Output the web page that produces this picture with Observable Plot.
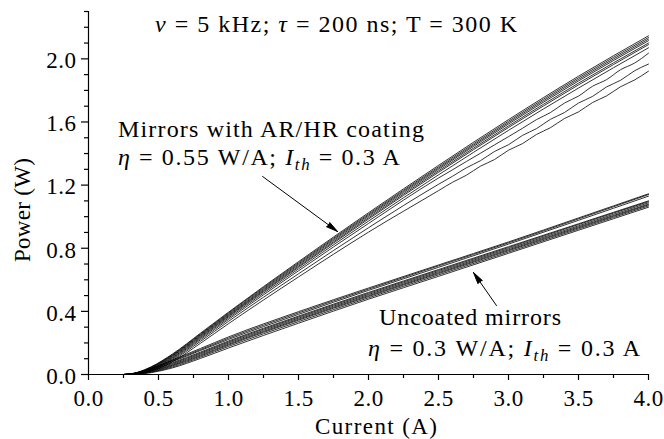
<!DOCTYPE html>
<html><head><meta charset="utf-8">
<script src="https://cdn.jsdelivr.net/npm/d3@7"></script>
<script src="https://cdn.jsdelivr.net/npm/@observablehq/plot@0.6"></script>
<style>
html,body{margin:0;padding:0;background:#fff;}
svg{display:block;}
</style></head><body><div id="chart"></div>
<script>
// ---- data ----
const currents = [0, 0.25, 0.35, 0.45, 0.6, 0.8, 1.0, 1.5, 2.0, 2.5, 3.0, 3.5, 4.0];
const noisyCurrents = [2.6, 2.7, 2.8, 2.9, 3.0, 3.1, 3.2, 3.3, 3.4, 3.5, 3.6, 3.7, 3.8, 3.9, 4.0];

// Mirrors with AR/HR coating (smooth curves)
const coatedPower = [
  [0, 0, 0.014, 0.05, 0.13, 0.262, 0.395, 0.715, 1.025, 1.325, 1.615, 1.89, 2.146],
  [0, 0, 0.013, 0.048, 0.126, 0.257, 0.39, 0.708, 1.017, 1.316, 1.605, 1.88, 2.135],
  [0, 0, 0.012, 0.045, 0.122, 0.252, 0.384, 0.701, 1.01, 1.308, 1.596, 1.87, 2.125],
  [0, 0, 0.011, 0.043, 0.118, 0.247, 0.378, 0.694, 1.002, 1.3, 1.587, 1.86, 2.115],
  [0, 0, 0.01, 0.04, 0.113, 0.241, 0.372, 0.686, 0.993, 1.29, 1.575, 1.846, 2.1],
  [0, 0, 0.009, 0.037, 0.108, 0.235, 0.366, 0.679, 0.985, 1.281, 1.565, 1.835, 2.09],
  [0, 0, 0.008, 0.034, 0.103, 0.228, 0.358, 0.669, 0.972, 1.265, 1.547, 1.815, 2.07]
];
// Mirrors with AR/HR coating (curves that get noisy at high current)
const coatedNoisyHead = [
  [0, 0, 0.007, 0.031, 0.097, 0.22, 0.349, 0.657, 0.957, 1.245],
  [0, 0, 0.006, 0.027, 0.09, 0.21, 0.337, 0.638, 0.93, 1.205],
  [0, 0, 0.004, 0.022, 0.081, 0.198, 0.322, 0.618, 0.902, 1.165]
];
const coatedNoisyTail = [
  [1.297, 1.35, 1.402, 1.455, 1.507, 1.56, 1.615, 1.66, 1.72, 1.764, 1.826, 1.868, 1.931, 1.973, 2.036],
  [1.256, 1.31, 1.355, 1.413, 1.456, 1.515, 1.558, 1.617, 1.66, 1.72, 1.762, 1.822, 1.864, 1.924, 1.967],
  [1.218, 1.263, 1.32, 1.362, 1.421, 1.463, 1.521, 1.564, 1.622, 1.664, 1.723, 1.765, 1.823, 1.866, 1.922]
];
// Uncoated mirrors
const uncoatedPower = [
  [0, 0, 0.012, 0.04, 0.092, 0.165, 0.238, 0.398, 0.548, 0.694, 0.84, 0.992, 1.145],
  [0, 0, 0.011, 0.037, 0.087, 0.158, 0.23, 0.39, 0.541, 0.688, 0.834, 0.986, 1.14],
  [0, 0, 0.01, 0.034, 0.082, 0.152, 0.222, 0.381, 0.533, 0.679, 0.826, 0.977, 1.13],
  [0, 0, 0.008, 0.03, 0.075, 0.142, 0.212, 0.37, 0.52, 0.665, 0.81, 0.955, 1.1],
  [0, 0, 0.007, 0.027, 0.07, 0.136, 0.206, 0.364, 0.514, 0.659, 0.804, 0.95, 1.095],
  [0, 0, 0.006, 0.024, 0.064, 0.13, 0.199, 0.357, 0.507, 0.652, 0.797, 0.942, 1.088],
  [0, 0, 0.005, 0.021, 0.059, 0.123, 0.192, 0.35, 0.5, 0.645, 0.79, 0.935, 1.08],
  [0, 0, 0.004, 0.018, 0.054, 0.117, 0.186, 0.344, 0.494, 0.639, 0.784, 0.929, 1.075],
  [0, 0, 0.003, 0.015, 0.048, 0.11, 0.178, 0.335, 0.486, 0.631, 0.776, 0.922, 1.068],
  [0, 0, 0.002, 0.012, 0.042, 0.102, 0.168, 0.325, 0.477, 0.622, 0.768, 0.914, 1.06]
];

const xTicks = [0, 0.5, 1.0, 1.5, 2.0, 2.5, 3.0, 3.5, 4.0];
const xMinorTicks = [0.25, 0.75, 1.25, 1.75, 2.25, 2.75, 3.25, 3.75];
const yTicks = [0, 0.4, 0.8, 1.2, 1.6, 2.0];
const yMinorTicks = [0.1, 0.2, 0.3, 0.5, 0.6, 0.7, 0.9, 1.0, 1.1, 1.3, 1.4, 1.5, 1.7, 1.8, 1.9, 2.1, 2.2, 2.3];

const titleText = [{t: "ν", i: true}, {t: " = 5 kHz; "}, {t: "τ", i: true}, {t: " = 200 ns; T = 300 K"}];
const coatedLabel1 = [{t: "Mirrors with AR/HR coating"}];
const coatedLabel2 = [{t: "η", i: true}, {t: " = 0.55 W/A; "}, {t: "I", i: true}, {t: "th", i: true, sub: true}, {t: " = 0.3 A", up: true}];
const uncoatedLabel1 = [{t: "Uncoated mirrors"}];
const uncoatedLabel2 = [{t: "η", i: true}, {t: " = 0.3 W/A; "}, {t: "I", i: true}, {t: "th", i: true, sub: true}, {t: " = 0.3 A", up: true}];
const xLabel = "Current (A)";
const yLabel = "Power (W)";

// ---- build rows ----
const rows = [];
coatedPower.forEach((ys, k) => ys.forEach((p, j) => rows.push({id: "c" + k, I: currents[j], P: p})));
coatedNoisyHead.forEach((ys, k) => {
  ys.forEach((p, j) => rows.push({id: "cn" + k, I: currents[j], P: p}));
  coatedNoisyTail[k].forEach((p, j) => rows.push({id: "cn" + k, I: noisyCurrents[j], P: p}));
});
uncoatedPower.forEach((ys, k) => ys.forEach((p, j) => rows.push({id: "u" + k, I: currents[j], P: p})));

const arrows = [
  {x1: 1.243, y1: 1.255, x2: 1.779, y2: 0.906},
  {x1: 2.914, y1: 0.437, x2: 2.75, y2: 0.646}
];

const SERIF = "'Liberation Serif', serif";
const FS = 23;      // tick labels
const NFS = 24;     // annotations
const fmt = d3.format(".1f");

const plot = Plot.plot({
  width: 664, height: 439,
  marginLeft: 88, marginRight: 16, marginTop: 11, marginBottom: 65,
  x: {domain: [0, 4]},
  y: {domain: [0, 2.3]},
  style: {fontFamily: SERIF, fontSize: FS + "px", color: "black", background: "white", overflow: "visible"},
  marks: [
    Plot.line(rows, {x: "I", y: "P", z: "id", stroke: "black", strokeWidth: 0.8, curve: "monotone-x"}),
    Plot.ruleX([0], {strokeWidth: 1.2}),
    Plot.ruleY([0], {strokeWidth: 1.2}),
    Plot.axisX({ticks: xTicks, tickSize: 6, tickPadding: 9, tickFormat: fmt, label: null, strokeWidth: 1.2}),
    Plot.axisX({ticks: xMinorTicks, tickSize: 4, tickFormat: () => "", label: null, strokeWidth: 1.2}),
    Plot.axisY({ticks: yTicks, tickSize: 7, tickPadding: 5, tickFormat: fmt, label: null, strokeWidth: 1.2}),
    Plot.axisY({ticks: yMinorTicks, tickSize: 4, tickFormat: () => "", label: null, strokeWidth: 1.2}),
    Plot.arrow(arrows, {x1: "x1", y1: "y1", x2: "x2", y2: "y2", stroke: "black", fill: "black",
      strokeWidth: 1, headAngle: 26, headLength: 18})
  ]
});

document.getElementById("chart").appendChild(plot);

const svg = d3.select(plot);
svg.selectAll("text").style("font-family", SERIF).style("letter-spacing", "0.5px");
svg.selectAll('g[aria-label="y-axis tick label"]').attr("transform", function () {
  const t = this.getAttribute("transform") || "";
  return t + " translate(0,2)";
});
const sx = plot.scale("x"), sy = plot.scale("y");
function note(xv, yv, parts, len, anchor = "start", rotate = 0, size = NFS) {
  const px = sx.apply(xv), py = sy.apply(yv);
  const t = svg.append("text")
    .style("font-family", SERIF).attr("font-size", size).attr("fill", "black")
    .attr("text-anchor", anchor)
    .attr("transform", `translate(${px},${py})` + (rotate ? ` rotate(${rotate})` : ""));
  if (len) t.attr("textLength", len).attr("lengthAdjust", "spacing");
  for (const p of parts) {
    const s = t.append("tspan").text(p.t);
    if (p.i) s.attr("font-style", "italic");
    if (p.sub) s.attr("font-size", size * 0.7).attr("dy", 5);
    if (p.up) s.attr("dy", -5);
  }
  return t;
}
note(0.479, 2.167, titleText, 362);
note(0.214, 1.502, coatedLabel1, 306);
note(0.214, 1.324, coatedLabel2, 282);
note(2.079, 0.311, uncoatedLabel1, 182);
note(2.0, 0.114, uncoatedLabel2, 272);
note(2.057, -0.38, [{t: xLabel}], 122, "middle", 0, 23);
note(-0.414, 1.039, [{t: yLabel}], 104, "middle", -90, 23);
</script></body></html>
